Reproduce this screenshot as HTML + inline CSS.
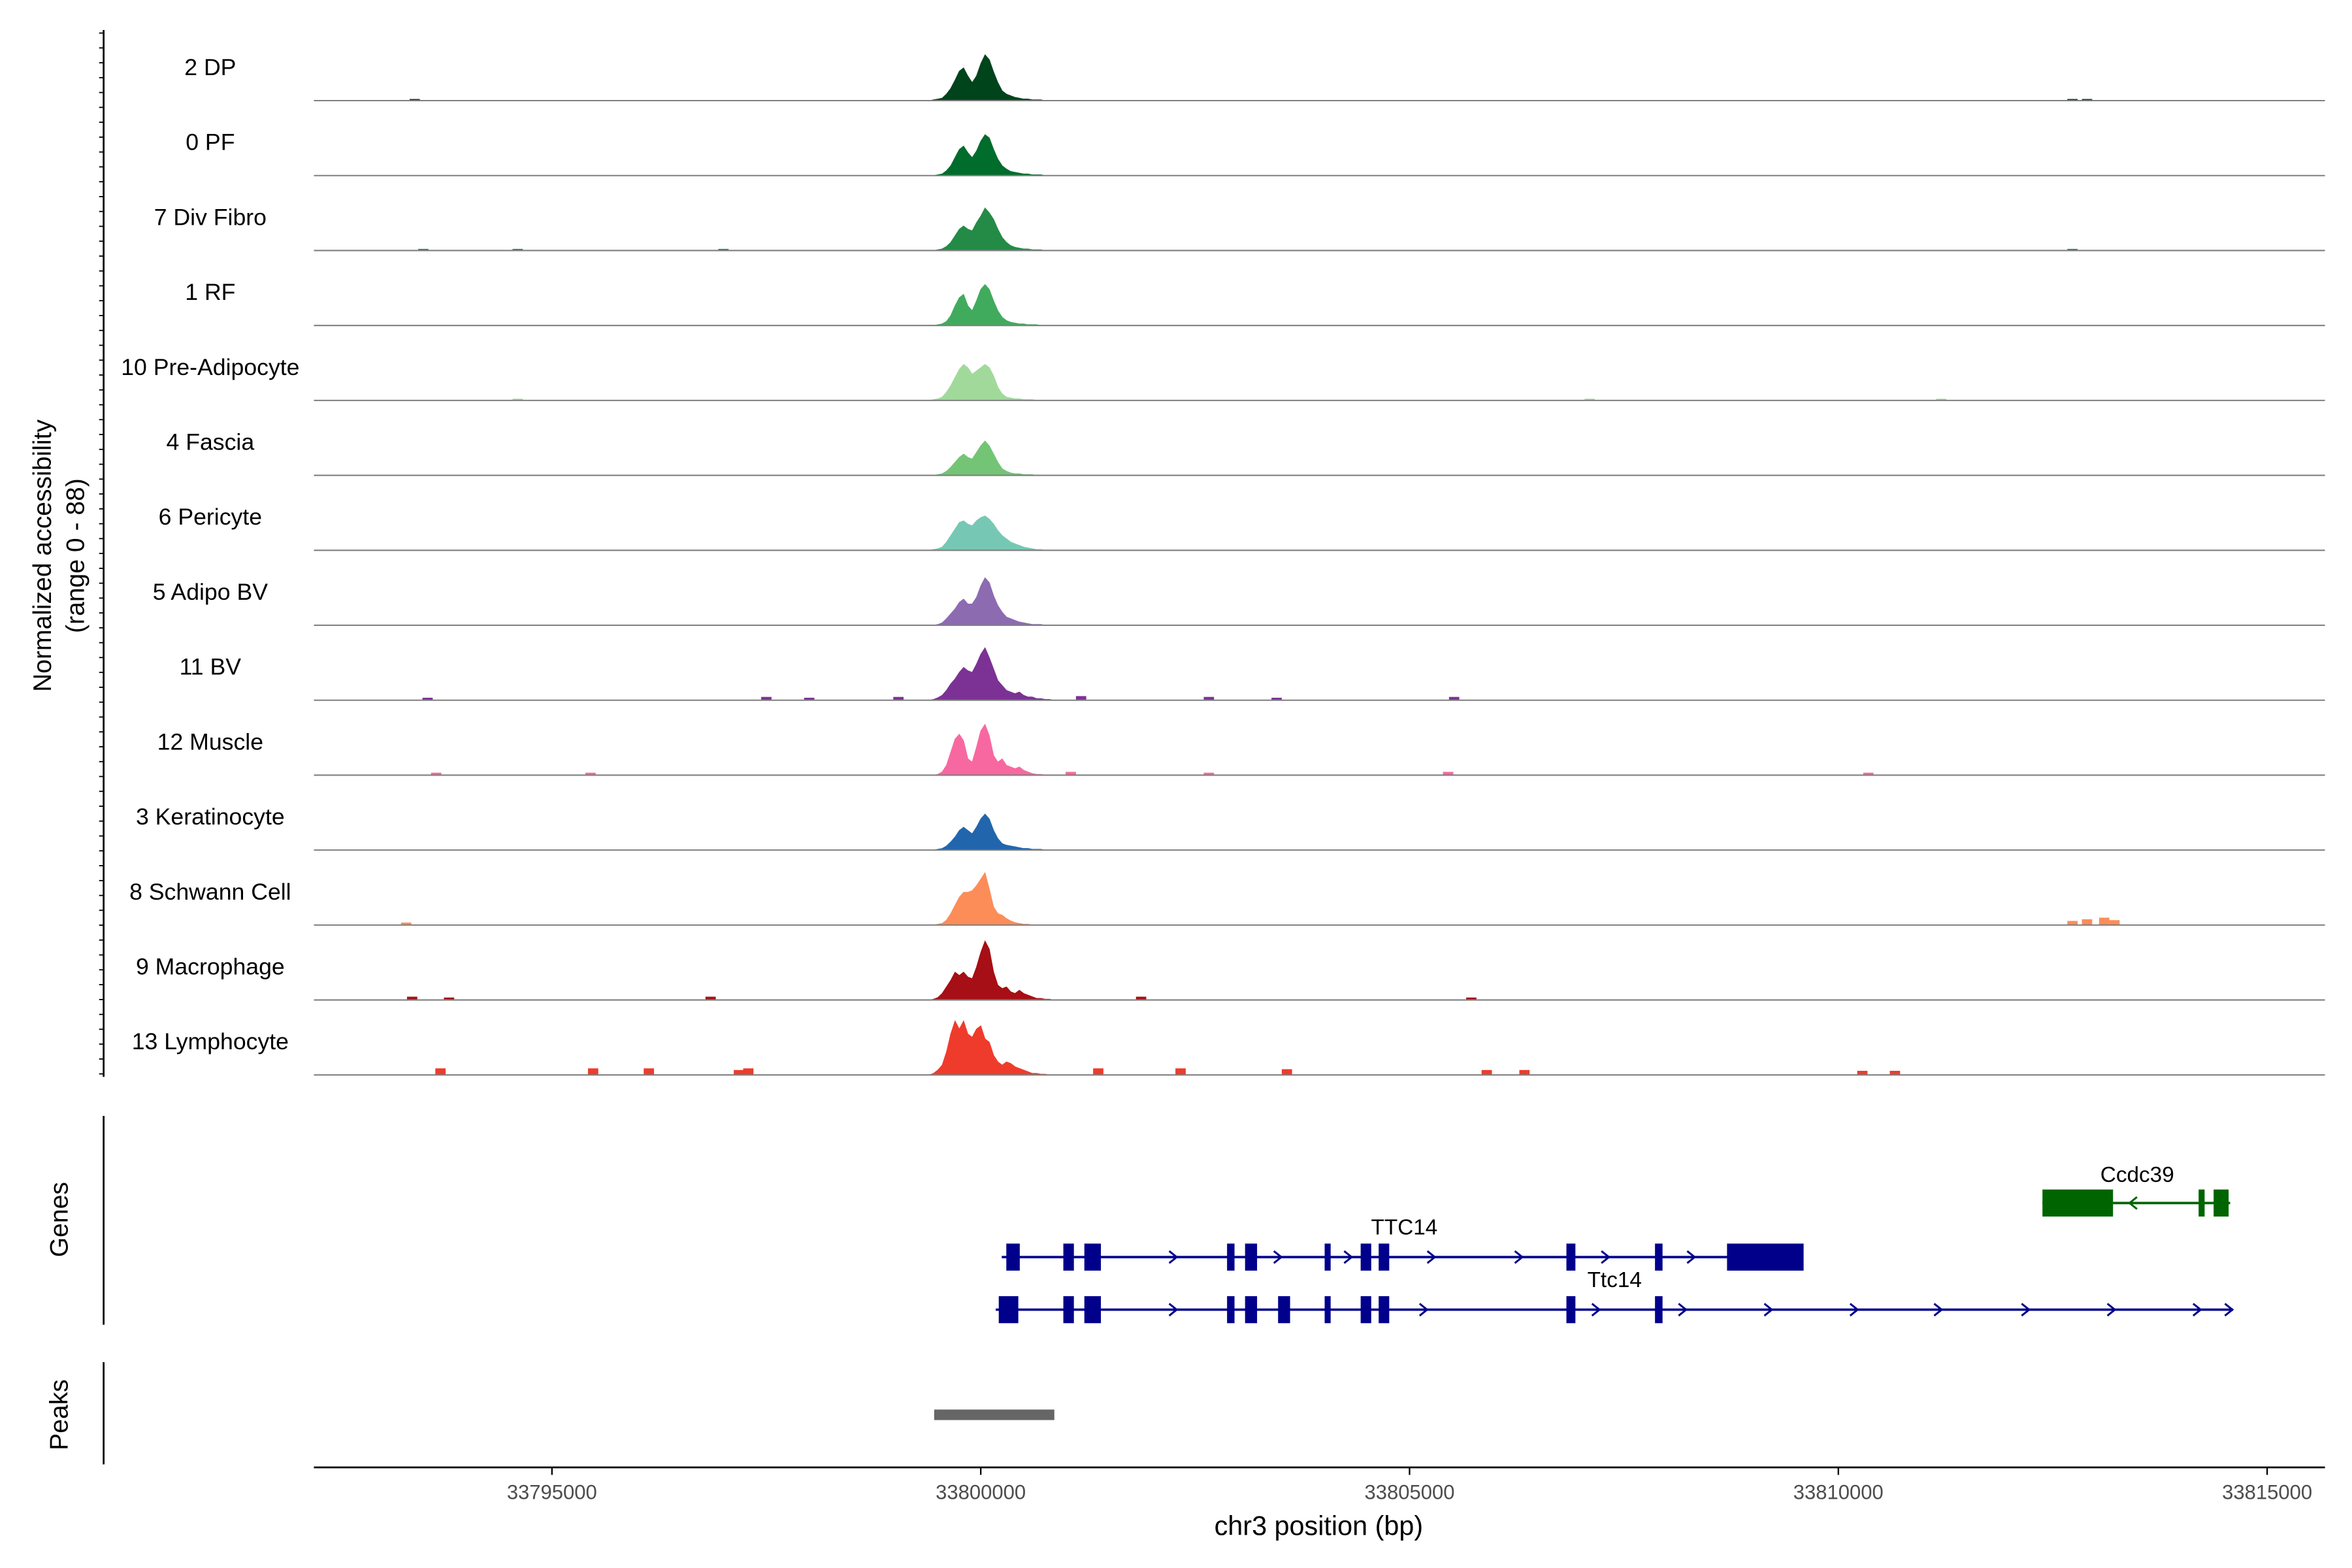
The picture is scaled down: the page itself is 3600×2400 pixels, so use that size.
<!DOCTYPE html>
<html><head><meta charset="utf-8"><style>
html,body{margin:0;padding:0;background:#fff}
svg{display:block}
text{font-family:"Liberation Sans",Arial,sans-serif;fill:#000}
</style></head><body>
<svg id="chart" width="3600" height="2400" viewBox="0 0 1566 1044" preserveAspectRatio="xMinYMin meet" xmlns="http://www.w3.org/2000/svg"></svg>
<script>
// ---- data ----
const trackNames = ["2 DP","0 PF","7 Div Fibro","1 RF","10 Pre-Adipocyte","4 Fascia","6 Pericyte","5 Adipo BV","11 BV","12 Muscle","3 Keratinocyte","8 Schwann Cell","9 Macrophage","13 Lymphocyte"];
const trackColors = ["#00441b","#006d2c","#238b45","#41ab5d","#a1d99b","#74c476","#76c8b4","#8c6bb1","#7b3294","#f768a1","#2166ac","#fc8d59","#a50f15","#ef3b2c"];
const binStart = 33799400, binStep = 50;
const dp   = [0,1,2,3,8,15,25,36,40,30,22,30,45,56,50,35,22,12,8,6,4,3,2,2,1,1,1,0,0,0,0];
const pf   = [0,0,1,2,6,12,22,32,36,28,22,30,42,50,46,32,20,12,8,5,4,3,2,2,1,1,1,0,0,0,0];
const div  = [0,0,1,2,5,10,18,26,30,26,24,34,42,52,46,38,26,16,10,6,4,3,2,2,1,1,1,0,0,0,0];
const rf   = [0,0,1,2,5,12,24,34,38,24,18,30,44,50,44,30,18,10,6,4,3,2,2,1,1,1,0,0,0,0,0];
const pre  = [0,1,2,4,10,18,28,38,44,40,32,36,40,44,40,30,16,8,4,3,2,2,1,1,1,0,0,0,0,0,0];
const fas  = [0,0,1,2,5,10,16,22,26,22,20,28,36,42,36,26,16,8,5,3,2,2,1,1,1,0,0,0,0,0,0];
const per  = [0,1,2,4,10,18,26,34,36,32,30,36,40,42,38,32,24,18,14,10,8,6,4,3,2,1,1,0,0,0,0];
const adv  = [0,0,1,3,8,14,20,28,32,26,26,34,48,58,52,36,24,16,10,8,6,4,3,2,1,1,1,0,0,0,0];
const bv   = [0,1,3,6,12,20,26,34,40,36,34,44,56,64,52,38,24,18,12,10,8,10,6,4,4,2,2,1,1,0,0];
const mus  = [0,0,1,4,12,28,44,50,42,20,16,34,54,62,48,24,16,20,12,10,8,10,6,4,2,1,1,0,0,0,0];
const ker  = [0,0,1,2,5,10,16,24,28,24,20,28,38,44,38,24,14,8,6,5,4,3,2,2,1,1,1,0,0,0,0];
const sch  = [0,0,1,2,6,14,24,34,40,40,42,48,56,64,44,22,14,12,8,5,3,2,1,1,0,0,0,0,0,0,0];
const mac  = [0,1,3,8,16,24,34,30,34,28,26,40,58,72,62,34,18,14,16,10,8,12,8,6,4,2,2,1,1,0,0];
const lym  = [0,2,6,12,28,50,66,56,66,50,46,56,60,44,40,24,16,12,16,14,10,8,6,4,2,2,1,1,0,0,0];
const trackValues = [dp,pf,div,rf,pre,fas,per,adv,bv,mus,ker,sch,mac,lym];
const bumpsDP  = [[33793400,2],[33812730,2],[33812900,2]];
const bumpsDiv = [[33793500,2],[33794600,2],[33797000,2],[33812730,2]];
const bumpsPre = [[33794600,2],[33807100,2],[33811200,2]];
const bumpsBV  = [[33793550,3],[33797500,4],[33798000,3],[33799040,4],[33801170,5],[33802660,4],[33803450,3],[33805520,4]];
const bumpsMus = [[33793650,3],[33795450,3],[33801050,4],[33802660,3],[33805450,4],[33810350,3]];
const bumpsSch = [[33793300,3],[33812730,5],[33812900,7],[33813100,9],[33813220,6]];
const bumpsMac = [[33793370,4],[33793800,3],[33796850,4],[33801870,4],[33805720,3]];
const bumpsLym = [[33793700,8],[33795480,8],[33796130,8],[33797180,6],[33797290,8],[33801370,8],[33802330,8],[33803570,7],[33805900,6],[33806340,6],[33810280,5],[33810660,5]];
const trackBumps = [bumpsDP,[],bumpsDiv,[],bumpsPre,[],[],[],bumpsBV,bumpsMus,[],bumpsSch,bumpsMac,bumpsLym];
const xTicks = [33795000,33800000,33805000,33810000,33815000];
const ttc14aExons = [[33800298,33800455],[33800963,33801086],[33801208,33801401],[33802872,33802959],[33803082,33803222],[33804010,33804080],[33804430,33804553],[33804640,33804763],[33806829,33806934],[33807862,33807950],[33808702,33809595]];
const ttc14aSpan = [33800245,33809578];
const ttc14aArrows = [33802250,33803470,33804290,33805260,33806280,33807290,33808290];
const ttc14bExons = [[33800210,33800438],[33800963,33801086],[33801208,33801401],[33802872,33802959],[33803082,33803222],[33803467,33803607],[33804010,33804080],[33804430,33804553],[33804640,33804763],[33806829,33806934],[33807862,33807950]];
const ttc14bSpan = [33800175,33814603];
const ttc14bArrows = [33802250,33805170,33807180,33808190,33809190,33810190,33811170,33812190,33813190,33814190,33814560];
const ccdc39Exons = [[33812380,33813203],[33814201,33814271],[33814376,33814551]];
const ccdc39Span = [33812380,33814569];
const ccdc39Arrows = [33813430];
const peakRanges = [[33799457,33800858]];

// ---- scales ----
const X0=209, X1=1548;
const xs = bp => 653 + (bp-33800000)*285.5/5000;
const trackTop0 = 67, trackGap = 49.9, trackH = 48, yMax = 88;
const ys = (i,v) => trackTop0 + i*trackGap - v/yMax*trackH;

const svg = document.getElementById('chart');
const NS = "http://www.w3.org/2000/svg";
function mk(tag, attrs, parent){const e=document.createElementNS(NS,tag);for(const k in attrs)e.setAttribute(k,attrs[k]);(parent||svg).appendChild(e);return e;}

let g = mk('g',{});


mk('line',{x1:69,y1:20,x2:69,y2:717,stroke:'#000','stroke-width':1.2},g);
for(let y=22;y<=716;y+=9.9){mk('line',{x1:66,y1:y,x2:69,y2:y,stroke:'#000','stroke-width':0.8},g);}
let t = mk('text',{x:0,y:0,'font-size':17,'text-anchor':'middle',transform:'translate(34,370) rotate(-90)'});
t.textContent='Normalized accessibility';


t = mk('text',{x:0,y:0,'font-size':17,'text-anchor':'middle',transform:'translate(56,370) rotate(-90)'});
t.textContent='(range 0 - 88)';



trackNames.forEach((name,i)=>{
  const tg = mk('g',{});
  
  
  const base = ys(i,0);
  const lab = mk('text',{x:140,y:base-17,'font-size':15.5,'text-anchor':'middle'},tg);
  lab.textContent=name;
  
  
  const vals = trackValues[i];
  let d = 'M'+xs(binStart)+','+base;
  vals.forEach((v,j)=>{const bx=xs(binStart+j*binStep);d+=' L'+bx.toFixed(2)+','+ys(i,v).toFixed(2);});
  d += ' L'+xs(binStart+(vals.length-1)*binStep)+','+base+' Z';
  const p = mk('path',{d:d,fill:trackColors[i],stroke:trackColors[i],'stroke-width':0.4},tg);
  
  
  trackBumps[i].forEach(b=>{
    const bx=xs(b[0]), w=xs(b[0]+120)-bx;
    const r = mk('rect',{x:bx-w/2,y:ys(i,b[1]),width:w,height:base-ys(i,b[1]),fill:trackColors[i]},tg);
    
    
  });
  const bl = mk('line',{x1:X0,y1:base,x2:X1,y2:base,stroke:'#7f7f7f','stroke-width':0.9},tg);
  
  
});

const gg = mk('g',{});


mk('line',{x1:69,y1:743,x2:69,y2:882,stroke:'#000','stroke-width':1.2},gg);
t = mk('text',{x:0,y:0,'font-size':17,'text-anchor':'middle',transform:'translate(45,812) rotate(-90)'},gg);
t.textContent='Genes';


function drawGene(name,span,exons,arrows,y,color,dir,label,lx,ly){
  const eg = mk('g',{},gg);
  
  
  mk('line',{x1:xs(span[0]),y1:y,x2:xs(span[1]),y2:y,stroke:color,'stroke-width':1.6},eg);
  exons.forEach(e=>{
    mk('rect',{x:xs(e[0]),y:y-9,width:Math.max(xs(e[1])-xs(e[0]),2.5),height:18,fill:color},eg);
  });
  arrows.forEach(a=>{const ax=xs(a);mk('path',{d:`M${ax-3*dir},${y-4} L${ax+2*dir},${y} L${ax-3*dir},${y+4}`,fill:'none',stroke:color,'stroke-width':1.3},eg);});
  const tl = mk('text',{x:lx,y:ly,'font-size':14.5,'text-anchor':'middle'},eg);
  tl.textContent=label;
  
  
}
drawGene('ccdc39',ccdc39Span,ccdc39Exons,ccdc39Arrows,801,'#006400',-1,'Ccdc39',1423,787);
drawGene('TTC14',ttc14aSpan,ttc14aExons,ttc14aArrows,837,'#00008b',1,'TTC14',935,822);
drawGene('Ttc14',ttc14bSpan,ttc14bExons,ttc14bArrows,872,'#00008b',1,'Ttc14',1075,857);

const pg = mk('g',{});


mk('line',{x1:69,y1:907,x2:69,y2:975,stroke:'#000','stroke-width':1.2},pg);
t = mk('text',{x:0,y:0,'font-size':17,'text-anchor':'middle',transform:'translate(45,942) rotate(-90)'},pg);
t.textContent='Peaks';


peakRanges.forEach(r=>{
  const pr = mk('rect',{x:xs(r[0]),y:938.5,width:xs(r[1])-xs(r[0]),height:7,fill:'#666666'},pg);
  
  
});

const xg = mk('g',{});


mk('line',{x1:X0,y1:977,x2:X1,y2:977,stroke:'#000','stroke-width':1.2},xg);
xTicks.forEach(v=>{
  const x=xs(v);
  mk('line',{x1:x,y1:977,x2:x,y2:982,stroke:'#000','stroke-width':1},xg);
  const tl=mk('text',{x:x,y:998,'font-size':13.5,'text-anchor':'middle',style:'fill:#4d4d4d'},xg);
  tl.textContent=String(v);
  
  
});
t = mk('text',{x:878,y:1022,'font-size':18,'text-anchor':'middle'},xg);
t.textContent='chr3 position (bp)';


</script>
</body></html>
